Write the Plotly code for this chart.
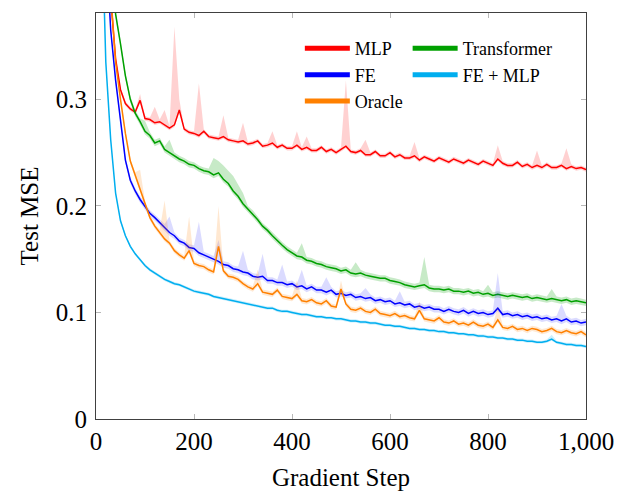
import plotly.graph_objects as go

steps = list(range(0, 1001, 10))

mlp = [1.2, 0.72, 0.50, 0.395, 0.338, 0.309, 0.296, 0.291, 0.288, 0.299,
       0.282, 0.281, 0.278, 0.279, 0.276, 0.273, 0.276, 0.290, 0.272, 0.269,
       0.268, 0.266, 0.270, 0.265, 0.264, 0.263, 0.265, 0.262, 0.261, 0.260,
       0.261, 0.258, 0.259, 0.261, 0.256, 0.257, 0.259, 0.255, 0.257, 0.254,
       0.254, 0.257, 0.253, 0.255, 0.252, 0.252, 0.255, 0.251, 0.253, 0.250,
       0.253, 0.256, 0.251, 0.250, 0.252, 0.248, 0.248, 0.251, 0.247, 0.247,
       0.250, 0.246, 0.248, 0.245, 0.245, 0.247, 0.243, 0.246, 0.244, 0.242,
       0.245, 0.243, 0.241, 0.244, 0.242, 0.240, 0.243, 0.241, 0.239, 0.242,
       0.240, 0.238, 0.244, 0.240, 0.238, 0.238, 0.241, 0.237, 0.239, 0.236,
       0.238, 0.236, 0.239, 0.236, 0.236, 0.238, 0.235, 0.237, 0.235, 0.236, 0.234]

fe = [0.95, 0.62, 0.45, 0.365, 0.318, 0.279, 0.243, 0.224, 0.214, 0.206,
      0.200, 0.193, 0.189, 0.184, 0.180, 0.175, 0.172, 0.167, 0.165, 0.161,
      0.160, 0.156, 0.154, 0.152, 0.150, 0.148, 0.145, 0.144, 0.141, 0.140,
      0.138, 0.137, 0.134, 0.133, 0.134, 0.130, 0.130, 0.128, 0.128, 0.126,
      0.127, 0.124, 0.125, 0.122, 0.124, 0.121, 0.121, 0.119, 0.121, 0.117,
      0.118, 0.116, 0.117, 0.114, 0.115, 0.113, 0.114, 0.111, 0.112, 0.110,
      0.111, 0.108, 0.109, 0.107, 0.108, 0.105, 0.106, 0.104, 0.105, 0.103,
      0.103, 0.101, 0.103, 0.101, 0.100, 0.102, 0.099, 0.101, 0.099, 0.100,
      0.098, 0.099, 0.104, 0.098, 0.099, 0.097, 0.098, 0.096, 0.097, 0.095,
      0.096, 0.094, 0.095, 0.093, 0.094, 0.092, 0.094, 0.091, 0.092, 0.090, 0.091]

oracle = [0.95, 0.68, 0.52, 0.40, 0.335, 0.300, 0.268, 0.242, 0.229, 0.216,
          0.202, 0.189, 0.181, 0.175, 0.169, 0.165, 0.158, 0.154, 0.151, 0.158,
          0.146, 0.144, 0.143, 0.140, 0.138, 0.162, 0.139, 0.134, 0.133, 0.131,
          0.127, 0.124, 0.122, 0.127, 0.119, 0.118, 0.117, 0.121, 0.115, 0.114,
          0.113, 0.117, 0.111, 0.110, 0.112, 0.109, 0.108, 0.111, 0.106, 0.105,
          0.122, 0.108, 0.103, 0.102, 0.104, 0.101, 0.100, 0.103, 0.099, 0.098,
          0.097, 0.099, 0.096, 0.097, 0.095, 0.094, 0.102, 0.094, 0.093, 0.092,
          0.095, 0.091, 0.090, 0.092, 0.089, 0.090, 0.088, 0.091, 0.088, 0.087,
          0.089, 0.086, 0.093, 0.086, 0.085, 0.087, 0.084, 0.085, 0.083, 0.085,
          0.084, 0.082, 0.083, 0.085, 0.082, 0.081, 0.083, 0.081, 0.080, 0.082, 0.079]

transformer = [1.0, 0.78, 0.57, 0.44, 0.380, 0.352, 0.322, 0.300, 0.287, 0.279,
               0.270, 0.266, 0.259, 0.261, 0.253, 0.250, 0.247, 0.244, 0.242, 0.239,
               0.238, 0.235, 0.233, 0.232, 0.229, 0.231, 0.225, 0.221, 0.214, 0.209,
               0.202, 0.197, 0.193, 0.187, 0.181, 0.177, 0.172, 0.167, 0.163, 0.159,
               0.156, 0.153, 0.152, 0.149, 0.148, 0.146, 0.145, 0.143, 0.142, 0.141,
               0.139, 0.140, 0.137, 0.136, 0.137, 0.135, 0.134, 0.133, 0.132, 0.132,
               0.130, 0.129, 0.128, 0.126, 0.125, 0.124, 0.125, 0.126, 0.123, 0.122,
               0.122, 0.121, 0.122, 0.120, 0.120, 0.119, 0.120, 0.118, 0.119, 0.117,
               0.118, 0.116, 0.117, 0.116, 0.115, 0.116, 0.115, 0.114, 0.115, 0.113,
               0.114, 0.113, 0.112, 0.113, 0.112, 0.111, 0.112, 0.110, 0.111, 0.110, 0.109]

fe_mlp = [0.9, 0.50, 0.335, 0.262, 0.212, 0.186, 0.172, 0.162, 0.155, 0.149,
          0.144, 0.140, 0.137, 0.134, 0.131, 0.129, 0.127, 0.126, 0.124, 0.122,
          0.120, 0.119, 0.118, 0.117, 0.115, 0.114, 0.113, 0.112, 0.111, 0.110,
          0.109, 0.108, 0.107, 0.106, 0.105, 0.104, 0.104, 0.102, 0.101, 0.101,
          0.100, 0.099, 0.098, 0.098, 0.097, 0.096, 0.096, 0.095, 0.095, 0.094,
          0.094, 0.093, 0.092, 0.092, 0.091, 0.091, 0.090, 0.090, 0.089, 0.088,
          0.088, 0.087, 0.087, 0.086, 0.085, 0.085, 0.084, 0.084, 0.083, 0.083,
          0.082, 0.082, 0.081, 0.081, 0.080, 0.080, 0.079, 0.079, 0.078, 0.078,
          0.077, 0.077, 0.076, 0.076, 0.075, 0.075, 0.074, 0.074, 0.073, 0.073,
          0.072, 0.072, 0.073, 0.075, 0.072, 0.071, 0.070, 0.070, 0.069, 0.069, 0.068]

# upper edge of the shaded spread where it sticks out (step -> value)
mlp_peaks = {90: 0.305, 120: 0.293, 140: 0.29, 160: 0.368, 170: 0.30, 210: 0.315,
             260: 0.285, 300: 0.278, 360: 0.27, 410: 0.27, 430: 0.265, 510: 0.318,
             550: 0.262, 650: 0.26, 820: 0.257, 900: 0.252, 960: 0.254}
fe_peaks = {150: 0.19, 210: 0.185, 250: 0.168, 300: 0.158, 340: 0.155, 380: 0.145,
            420: 0.14, 470: 0.133, 550: 0.123, 620: 0.12, 820: 0.137, 950: 0.108}
oracle_peaks = {90: 0.234, 140: 0.205, 190: 0.19, 250: 0.2, 330: 0.14, 410: 0.13,
                500: 0.13, 660: 0.11, 820: 0.105}
transformer_peaks = {100: 0.28, 150: 0.262, 240: 0.245, 250: 0.242, 260: 0.238,
                     270: 0.233, 280: 0.228, 290: 0.22, 300: 0.212, 420: 0.165,
                     530: 0.147, 670: 0.152, 800: 0.126, 930: 0.122}
fe_mlp_peaks = {930: 0.079}

series = [
    ("MLP", mlp, mlp_peaks, 0.002, "#ff0000", "rgba(255,0,0,0.18)", "legend"),
    ("FE", fe, fe_peaks, 0.003, "#0000ff", "rgba(0,0,255,0.14)", "legend"),
    ("Oracle", oracle, oracle_peaks, 0.0025, "#ff8000", "rgba(255,128,0,0.18)", "legend"),
    ("Transformer", transformer, transformer_peaks, 0.003, "#00a000", "rgba(0,160,0,0.22)", "legend2"),
    ("FE + MLP", fe_mlp, fe_mlp_peaks, 0.0015, "#00aeef", "rgba(0,174,239,0.2)", "legend2"),
]

fig = go.Figure()
draw_order = ["MLP", "Transformer", "FE", "Oracle", "FE + MLP"]
lookup = {s[0]: s for s in series}
for name in draw_order:
    _, vals, peaks, hw, col, fcol, _lg = lookup[name]
    upper = [max(v + hw, peaks.get(s, 0)) for s, v in zip(steps, vals)]
    lower = [v - hw for v in vals]
    fig.add_trace(go.Scatter(x=steps, y=lower, mode="lines", line=dict(width=0),
                             showlegend=False, hoverinfo="skip"))
    fig.add_trace(go.Scatter(x=steps, y=upper, mode="lines", line=dict(width=0),
                             fill="tonexty", fillcolor=fcol, showlegend=False,
                             hoverinfo="skip"))
    fig.add_trace(go.Scatter(x=steps, y=vals, mode="lines", name=name,
                             line=dict(color=col, width=1.5), showlegend=False))

# legend entries
for name, _v, _p, _h, col, _f, lg in series:
    fig.add_trace(go.Scatter(x=[None], y=[None], mode="lines", name=name,
                             line=dict(color=col, width=5), legend=lg,
                             legendgroup=name))

font_family = "Liberation Serif"
xtick_vals = [0, 200, 400, 600, 800, 1000]
xtick_text = ["0", "200", "400", "600", "800", "1,000"]
ytick_vals = [0, 0.1, 0.2, 0.3]
ytick_text = ["0", "0.1", "0.2", "0.3"]

axis_common = dict(showgrid=False, zeroline=False, showline=True, linecolor="#404040",
                   linewidth=1, mirror="allticks", ticks="inside", ticklen=5,
                   tickcolor="#b8b8b8", tickwidth=1, automargin=False,
                   tickfont=dict(family=font_family, size=25, color="black"))

legend_common = dict(font=dict(family=font_family, size=18, color="black"),
                     bgcolor="rgba(0,0,0,0)", borderwidth=0, tracegroupgap=0,
                     yanchor="top", xanchor="left", itemwidth=45)

# the page body adds an 8px offset, so the figure is 8px smaller than the window
fig.update_layout(
    width=620, height=490,
    margin=dict(l=88, r=42, t=5, b=79),
    paper_bgcolor="white", plot_bgcolor="white",
    xaxis=dict(range=[0, 1000], tickvals=xtick_vals, ticktext=xtick_text,
               title=dict(text="Gradient Step", standoff=14,
                          font=dict(family=font_family, size=25, color="black")),
               **axis_common),
    yaxis=dict(range=[0, 0.381], tickvals=ytick_vals, ticktext=ytick_text,
               ticklabelstandoff=3,
               title=dict(text="Test MSE", standoff=10,
                          font=dict(family=font_family, size=25, color="black")),
               **axis_common),
    legend=dict(x=0.416, y=0.958, **legend_common),
    legend2=dict(x=0.636, y=0.958, **legend_common),
)

fig.write_html("out.html")
